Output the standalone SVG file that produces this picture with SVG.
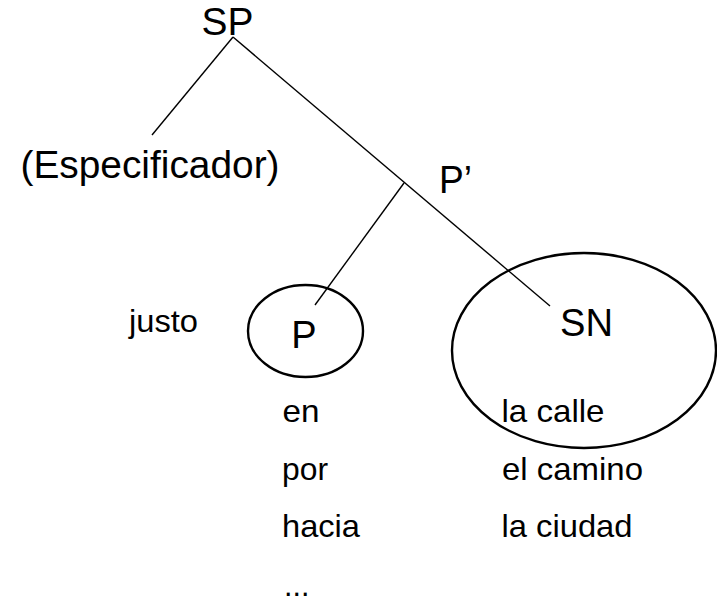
<svg xmlns="http://www.w3.org/2000/svg" width="717" height="604" viewBox="0 0 717 604">
<style>
  text { font-family: "Liberation Sans", Arial, sans-serif; fill: #000; }
  .big { font-size: 38px; }
  .small { font-size: 30.5px; }
  .edge { stroke: #000; stroke-width: 1.4; fill: none; }
  .ring { stroke: #000; stroke-width: 2.4; fill: none; }
</style>
<rect width="717" height="604" fill="#fff"/>
<g id="connectors">
  <line class="edge" x1="233" y1="37" x2="152" y2="135"/>
  <line class="edge" x1="233" y1="37" x2="550" y2="306"/>
  <line class="edge" x1="404" y1="183" x2="315" y2="305"/>
</g>
<g id="node-SP">
  <text class="big" x="201.5" y="35" textLength="52" lengthAdjust="spacingAndGlyphs">SP</text>
</g>
<g id="node-especificador">
  <text class="big" x="20.5" y="177.5" textLength="259" lengthAdjust="spacingAndGlyphs">(Especificador)</text>
</g>
<g id="node-Pbar">
  <text class="big" x="439" y="193" textLength="33" lengthAdjust="spacingAndGlyphs">P’</text>
</g>
<g id="node-justo">
  <text class="small" x="129" y="332" textLength="69" lengthAdjust="spacingAndGlyphs">justo</text>
</g>
<g id="node-P">
  <ellipse class="ring" cx="305.5" cy="331" rx="57.5" ry="46"/>
  <text class="big" x="304" y="347.5" text-anchor="middle">P</text>
</g>
<g id="node-SN">
  <ellipse class="ring" cx="584" cy="350.5" rx="132" ry="97.5"/>
  <text class="big" x="560" y="335.5" textLength="53" lengthAdjust="spacingAndGlyphs">SN</text>
</g>
<g id="list-P">
  <text class="small" x="282.5" y="422" textLength="37" lengthAdjust="spacingAndGlyphs">en</text>
  <text class="small" x="282" y="480" textLength="46" lengthAdjust="spacingAndGlyphs">por</text>
  <text class="small" x="282" y="537" textLength="78" lengthAdjust="spacingAndGlyphs">hacia</text>
  <text class="small" x="284" y="596">...</text>
</g>
<g id="list-SN">
  <text class="small" x="501.5" y="422" textLength="103" lengthAdjust="spacingAndGlyphs">la calle</text>
  <text class="small" x="502" y="480" textLength="141" lengthAdjust="spacingAndGlyphs">el camino</text>
  <text class="small" x="501.5" y="537" textLength="131" lengthAdjust="spacingAndGlyphs">la ciudad</text>
</g>
</svg>
